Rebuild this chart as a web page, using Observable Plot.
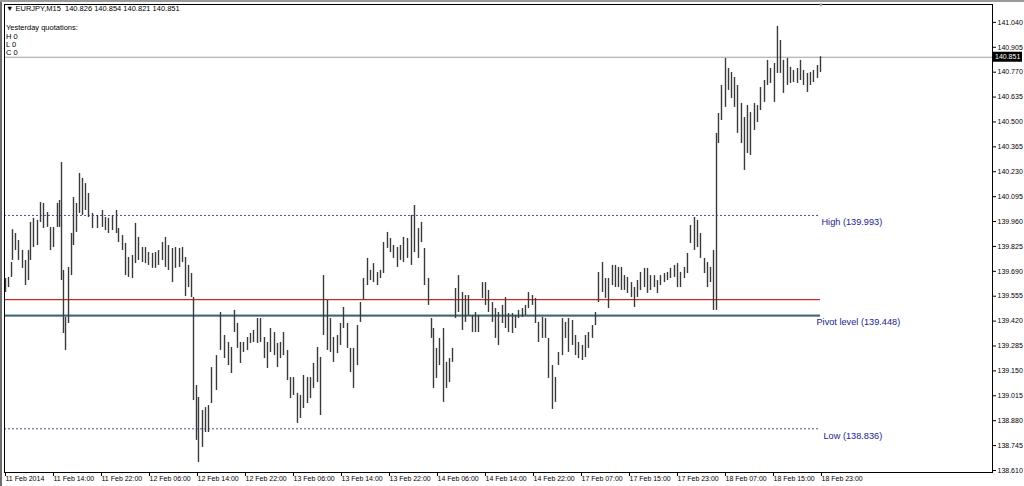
<!DOCTYPE html>
<html><head><meta charset="utf-8">
<script src="https://cdn.jsdelivr.net/npm/d3@7"></script>
<script src="https://cdn.jsdelivr.net/npm/@observablehq/plot@0.6"></script>
<style>
html,body{margin:0;padding:0;background:#fff;}
#wrap{position:relative;width:1024px;height:486px;overflow:hidden;font-family:"Liberation Sans",Arial,sans-serif;}
.hdr{position:absolute;left:6px;font-size:7.5px;line-height:9px;color:#000;white-space:pre;}
</style></head><body><div id="wrap"></div>
<script>
// trading hours since 11 Feb 2014 06:00 (weekend skipped)
const hours = [0.17,0.67,1.17,1.33,1.83,2.33,3.00,3.50,4.00,4.33,4.83,5.50,6.00,6.50,7.17,7.67,8.17,8.83,9.17,9.50,
9.83,10.17,10.67,11.17,11.50,12.00,12.50,13.00,13.50,14.00,14.67,15.50,16.33,16.83,17.33,18.00,18.67,19.00,19.67,20.17,
20.67,21.33,21.83,22.33,23.00,23.50,24.00,24.67,25.17,25.67,26.33,26.83,27.33,28.00,28.50,29.17,29.67,30.17,30.67,31.17,
31.50,32.00,32.33,33.00,33.50,34.00,34.50,35.33,36.00,36.67,37.33,37.83,38.33,38.83,39.33,39.83,40.50,41.00,41.50,42.17,
42.67,43.33,43.83,44.33,45.00,45.50,46.00,46.50,47.17,47.67,48.17,48.83,49.33,49.83,50.50,51.00,51.50,52.17,52.67,53.17,
53.83,54.33,54.83,55.50,56.00,56.50,57.17,57.67,58.17,58.83,59.33,59.83,60.50,61.00,61.50,62.17,62.67,63.17,63.83,64.33,
64.83,65.50,66.00,66.50,67.17,67.83,68.33,69.00,69.50,70.00,70.67,71.17,71.50,72.00,72.50,73.17,73.67,74.17,74.67,75.17,
75.67,76.33,76.83,77.33,78.00,78.50,79.00,79.67,80.17,80.67,81.33,81.83,82.33,83.00,83.50,84.00,84.67,85.17,85.67,86.33,
86.83,87.33,88.00,88.50,89.00,89.67,90.17,90.67,91.33,91.83,92.33,93.00,93.50,94.00,94.67,95.17,95.67,96.33,96.83,97.33,
98.00,98.50,99.00,99.67,100.17,100.67,101.33,101.83,102.33,102.83,103.33,103.83,104.50,105.00,105.50,106.00,106.67,107.17,107.67,108.33,
108.83,109.33,110.00,110.50,111.00,111.67,112.17,112.67,113.33,113.83,114.33,115.00,115.50,116.00,116.67,117.17,117.67,118.17,118.67,119.00,
119.50,120.17,120.67,121.17,121.67,122.17,122.83,123.33,123.83,124.33,125.00,125.50,126.00,126.67,127.17,127.67,128.33,128.83,129.33,129.83,
130.50,131.00,131.50,132.17,132.67,133.17,133.83,134.33,134.83,135.50,136.00];

const highs = [139.651,139.657,139.738,139.916,139.895,139.857,139.803,139.749,139.803,139.955,
139.977,139.966,140.063,140.058,140.009,139.928,139.928,140.058,140.074,140.280,
139.695,139.440,139.711,139.895,140.090,140.058,140.221,140.194,140.166,140.112,
140.004,139.993,140.020,139.982,139.977,139.993,140.020,139.922,139.884,139.841,
139.765,139.776,139.950,139.874,139.819,139.819,139.792,139.787,139.792,139.803,
139.846,139.874,139.830,139.814,139.819,139.814,139.819,139.765,139.722,139.678,
139.548,139.071,139.006,138.935,138.951,138.962,139.168,139.233,139.467,139.342,
139.304,139.277,139.478,139.407,139.304,139.304,139.331,139.353,139.369,139.434,
139.434,139.331,139.304,139.380,139.358,139.299,139.304,139.358,139.261,139.114,
139.114,139.028,139.017,139.125,139.114,139.114,139.190,139.277,139.223,139.667,
139.532,139.434,139.331,139.342,139.407,139.494,139.407,139.272,139.272,139.396,
139.521,139.651,139.760,139.695,139.732,139.684,139.695,139.846,139.901,139.868,
139.830,139.819,139.830,139.874,139.868,139.993,140.047,139.922,139.955,139.814,
139.651,139.434,139.380,139.272,139.326,139.380,139.196,139.217,139.272,139.597,
139.667,139.575,139.559,139.559,139.450,139.467,139.450,139.629,139.629,139.586,
139.521,139.488,139.467,139.505,139.548,139.461,139.461,139.450,139.478,139.488,
139.505,139.575,139.559,139.543,139.413,139.440,139.434,139.326,139.179,139.114,
139.250,139.434,139.413,139.434,139.423,139.342,139.304,139.288,139.342,139.358,
139.396,139.467,139.684,139.738,139.651,139.651,139.722,139.722,139.711,139.711,
139.667,139.657,139.629,139.602,139.640,139.684,139.706,139.706,139.667,139.667,
139.640,139.667,139.678,139.684,139.706,139.722,139.732,139.684,139.711,139.787,
139.939,139.982,139.966,139.895,139.760,139.738,139.711,139.803,140.438,140.546,
140.698,140.844,140.790,140.768,140.741,140.698,140.600,140.524,140.589,140.551,
140.600,140.589,140.687,140.725,140.834,140.790,140.817,141.018,140.942,140.834,
140.844,140.796,140.779,140.790,140.834,140.779,140.763,140.768,140.779,140.806,
140.854];

const lows = [139.575,139.602,139.657,139.749,139.803,139.749,139.706,139.613,139.640,139.749,
139.819,139.830,139.955,139.922,139.928,139.803,139.819,139.928,139.928,139.640,
139.353,139.261,139.407,139.667,139.830,139.901,140.004,139.993,140.020,139.982,
139.922,139.922,139.928,139.911,139.895,139.911,139.895,139.846,139.803,139.667,
139.657,139.651,139.732,139.749,139.738,139.732,139.722,139.706,139.706,139.722,
139.749,139.711,139.695,139.629,139.706,139.711,139.738,139.553,139.602,139.548,
138.989,138.773,138.653,138.735,138.816,138.816,138.973,139.044,139.261,139.217,
139.179,139.136,139.358,139.272,139.190,139.250,139.261,139.299,139.304,139.299,
139.304,139.217,139.163,139.250,139.233,139.168,139.217,139.233,139.098,139.000,
139.017,138.865,138.892,138.946,138.973,139.000,139.055,139.087,138.908,139.342,
139.261,139.250,139.196,139.244,139.288,139.380,139.272,139.141,139.055,139.179,
139.413,139.532,139.613,139.640,139.629,139.613,139.651,139.678,139.814,139.792,
139.760,139.711,139.749,139.738,139.760,139.722,139.792,139.760,139.846,139.613,
139.505,139.326,139.055,139.109,139.179,138.979,139.055,139.087,139.196,139.434,
139.467,139.369,139.413,139.450,139.358,139.358,139.358,139.543,139.505,139.467,
139.413,139.326,139.288,139.407,139.380,139.358,139.353,139.380,139.434,139.440,
139.450,139.488,139.505,139.407,139.304,139.326,139.326,139.109,138.941,138.979,
139.179,139.233,139.326,139.250,139.288,139.233,139.217,139.206,139.223,139.272,
139.326,139.396,139.521,139.575,139.543,139.488,139.613,139.602,139.602,139.586,
139.586,139.570,139.548,139.494,139.548,139.586,139.602,139.570,139.586,139.602,
139.570,139.613,139.629,139.640,139.651,139.657,139.602,139.602,139.651,139.678,
139.841,139.803,139.819,139.760,139.678,139.602,139.629,139.478,139.478,140.383,
140.508,140.579,140.671,140.627,140.579,140.438,140.383,140.237,140.329,140.318,
140.454,140.497,140.562,140.606,140.698,140.709,140.606,140.763,140.763,140.655,
140.698,140.709,140.714,140.709,140.725,140.698,140.660,140.698,140.714,140.736,
140.768];

const yTicks = [138.610,138.745,138.880,139.015,139.150,139.285,139.420,139.555,139.690,139.825,
139.960,140.095,140.230,140.365,140.500,140.635,140.770,140.905,141.040];
const xTickHours = [0,8,16,24,32,40,48,56,64,72,80,88,96,104,112,120,128,136];
const xTickLabels = ["11 Feb 2014","11 Feb 14:00","11 Feb 22:00","12 Feb 06:00","12 Feb 14:00","12 Feb 22:00",
"13 Feb 06:00","13 Feb 14:00","13 Feb 22:00","14 Feb 06:00","14 Feb 14:00","14 Feb 22:00",
"17 Feb 07:00","17 Feb 15:00","17 Feb 23:00","18 Feb 07:00","18 Feb 15:00","18 Feb 23:00"];

const symbol = "EURJPY,M15";
const ohlc = ["140.826","140.854","140.821","140.851"];
const lastClose = 140.851;
const highLevel = 139.993;
const lowLevel = 138.836;
const pivotLevel = 139.448;
const redLevel = 139.537;

const data = hours.map((t, i) => ({t, hi: highs[i], lo: lows[i]}));
const lastHour = hours[hours.length - 1];
const levelFill = "#1c1c8c";

const chart = Plot.plot({
  width: 1024, height: 486,
  marginLeft: 4, marginRight: 32, marginTop: 4, marginBottom: 14,
  style: {fontFamily: '"Liberation Sans", Arial, sans-serif', fontSize: "7px", background: "#fff", color: "#000", overflow: "visible"},
  x: {domain: [0, 164.67], axis: null},
  y: {domain: [138.599, 141.137], axis: null},
  marks: [
    Plot.ruleY([lastClose], {stroke: "#a0a0a0"}),
    Plot.ruleY([highLevel, lowLevel], {x1: 0, x2: lastHour, stroke: "#4f4f9c", strokeDasharray: "2,2"}),
    Plot.ruleY([redLevel], {x1: 0, x2: lastHour, stroke: "#d02828", strokeWidth: 1.2}),
    Plot.ruleY([pivotLevel], {x1: 0, x2: lastHour, stroke: "#3aa05a", dy: -1}),
    Plot.ruleY([pivotLevel], {x1: 0, x2: lastHour, stroke: "#000058"}),
    Plot.ruleX(data, {x: "t", y1: "lo", y2: "hi", stroke: "#3a3a3a", strokeWidth: 1.4}),
    Plot.frame({stroke: "#000"}),
    Plot.axisY({anchor: "right", ticks: yTicks, tickFormat: d => d.toFixed(3), tickSize: 3, tickPadding: 2, label: null}),
    Plot.axisX({anchor: "bottom", ticks: xTickHours, tickFormat: d => xTickLabels[xTickHours.indexOf(d)],
      tickSize: 4, tickPadding: 0, textAnchor: "start", dx: 1, label: null}),
    Plot.text([highLevel], {x: lastHour, y: d => d, text: d => `High (${d.toFixed(3)})`, textAnchor: "start", dx: 1, dy: 7, fill: levelFill, fontSize: 9.2}),
    Plot.text([pivotLevel], {x: lastHour, y: d => d, text: d => `Pivot level (${d.toFixed(3)})`, textAnchor: "start", dx: -4, dy: 6, fill: levelFill, fontSize: 9.2}),
    Plot.text([lowLevel], {x: lastHour, y: d => d, text: d => `Low (${d.toFixed(3)})`, textAnchor: "start", dx: 3, dy: 7, fill: levelFill, fontSize: 9.2})
  ]
});

// current price box
const ys = chart.scale("y");
const yc = ys.apply(lastClose);
const g = d3.select(chart).append("g");
g.append("rect").attr("x", 993).attr("y", yc - 5).attr("width", 29).attr("height", 10).attr("fill", "#000");
g.append("text").attr("x", 995).attr("y", yc).attr("dy", "0.35em").attr("fill", "#fff")
  .attr("text-anchor", "start").attr("font-size", 7).text(lastClose.toFixed(3));

const wrap = document.getElementById("wrap");
wrap.appendChild(chart);
const lines = [
  {top: 4, text: "\u25BC " + symbol + "  " + ohlc.join(" ")},
  {top: 23, text: "Yesterday quotations:"},
  {top: 32, text: "H 0"},
  {top: 40, text: "L 0"},
  {top: 48, text: "C 0"}
];
for (const l of lines) {
  const d = document.createElement("div");
  d.className = "hdr"; d.style.top = l.top + "px"; d.textContent = l.text;
  wrap.appendChild(d);
}
const mk = document.createElement("div");
mk.style.cssText = "position:absolute;left:819px;top:1px;font-size:7px;color:#999;";
mk.textContent = "\u25BE";
wrap.appendChild(mk);
const edge = document.createElement("div");
edge.style.cssText = "position:absolute;left:0;top:0;width:2px;height:486px;background:#6e6e6e;";
wrap.appendChild(edge);
const topEdge = document.createElement("div");
topEdge.style.cssText = "position:absolute;left:0;top:0;width:1024px;height:2px;background:#9a9a9a;";
wrap.appendChild(topEdge);
</script></body></html>
